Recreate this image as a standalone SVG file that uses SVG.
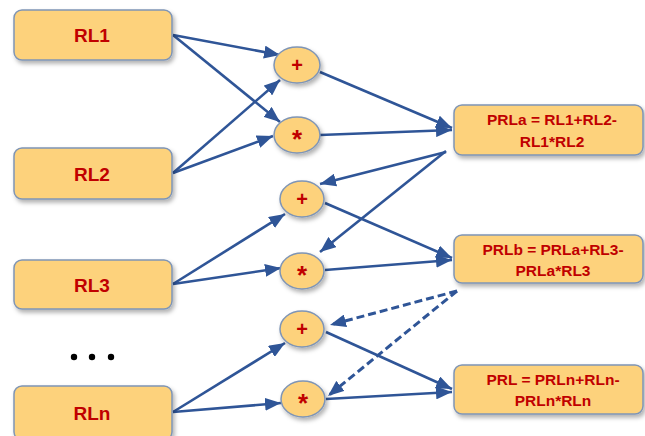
<svg xmlns="http://www.w3.org/2000/svg" width="645" height="436" viewBox="0 0 645 436">
  <defs>
    <filter id="shadow" x="-10%" y="-20%" width="130%" height="150%">
      <feDropShadow dx="2" dy="3" stdDeviation="2" flood-color="#000" flood-opacity="0.3"/>
    </filter>
    <marker id="arrow" viewBox="0 0 16 13" refX="16" refY="6.5" markerWidth="16" markerHeight="13" markerUnits="userSpaceOnUse" orient="auto">
      <path d="M0,0 L16,6.5 L0,13 z" fill="#2F5597"/>
    </marker>
  </defs>
  <style>
    .box { fill: #FDD27C; stroke: #7F95B5; stroke-width: 1.5; filter: url(#shadow); }
    .op { fill: #FDD27C; stroke: #7F95B5; stroke-width: 1.5; filter: url(#shadow); }
    .lbl { font-family: "Liberation Sans", Arial, sans-serif; font-weight: bold; fill: #C00000; text-anchor: middle; }
    .in { font-size: 19px; }
    .res { font-size: 15.5px; }
    .plus { font-size: 20px; }
    .star { font-size: 26px; }
    .wire { stroke: #2F5597; stroke-width: 2.6; fill: none; marker-end: url(#arrow); }
    .dash { stroke-dasharray: 8 4; stroke-width: 3; }
  </style>

  <!-- connectors -->
  <g id="connectors">
    <line class="wire" x1="173" y1="35" x2="280" y2="55"/>
    <line class="wire" x1="173" y1="35" x2="280" y2="122"/>
    <line class="wire" x1="173" y1="173" x2="280" y2="80"/>
    <line class="wire" x1="173" y1="173" x2="273" y2="136"/>
    <line class="wire" x1="320" y1="72" x2="452" y2="128"/>
    <line class="wire" x1="320" y1="135" x2="452" y2="130"/>

    <line class="wire" x1="446" y1="152" x2="320" y2="184"/>
    <line class="wire" x1="446" y1="151" x2="320" y2="252"/>
    <line class="wire" x1="173" y1="284" x2="285" y2="214"/>
    <line class="wire" x1="173" y1="284" x2="281" y2="268"/>
    <line class="wire" x1="325" y1="203" x2="452" y2="258"/>
    <line class="wire" x1="325" y1="270" x2="452" y2="260"/>

    <line class="wire dash" x1="457" y1="291" x2="330" y2="325"/>
    <line class="wire dash" x1="457" y1="291" x2="328" y2="396"/>
    <line class="wire" x1="173" y1="412" x2="285" y2="343"/>
    <line class="wire" x1="173" y1="412" x2="281" y2="403"/>
    <line class="wire" x1="326" y1="332" x2="452" y2="389"/>
    <line class="wire" x1="326" y1="399" x2="452" y2="392"/>
  </g>

  <!-- inputs -->
  <g id="rl1">
    <rect class="box" x="14" y="10" width="158" height="50" rx="8"/>
    <text class="lbl in" x="92" y="42">RL1</text>
  </g>
  <g id="rl2">
    <rect class="box" x="14" y="148" width="158" height="51" rx="8"/>
    <text class="lbl in" x="92" y="181">RL2</text>
  </g>
  <g id="rl3">
    <rect class="box" x="14" y="260" width="158" height="49" rx="8"/>
    <text class="lbl in" x="92" y="292">RL3</text>
  </g>
  <g id="rln">
    <rect class="box" x="14" y="386" width="158" height="54" rx="8"/>
    <text class="lbl in" x="92" y="420">RLn</text>
  </g>
  <g id="ellipsis">
    <circle cx="74" cy="357" r="3.2" fill="#000"/>
    <circle cx="92" cy="357" r="3.2" fill="#000"/>
    <circle cx="111" cy="357" r="3.2" fill="#000"/>
  </g>

  <!-- operators -->
  <g id="add1">
    <ellipse class="op" cx="297" cy="65" rx="23" ry="18"/>
    <text class="lbl plus" x="297" y="72">+</text>
  </g>
  <g id="mul1">
    <ellipse class="op" cx="297" cy="135" rx="23" ry="18"/>
    <text class="lbl star" x="297" y="148">*</text>
  </g>
  <g id="add2">
    <ellipse class="op" cx="302" cy="199" rx="22" ry="18"/>
    <text class="lbl plus" x="302" y="206">+</text>
  </g>
  <g id="mul2">
    <ellipse class="op" cx="302" cy="271" rx="22" ry="18"/>
    <text class="lbl star" x="302" y="284">*</text>
  </g>
  <g id="add3">
    <ellipse class="op" cx="302" cy="329" rx="22" ry="18"/>
    <text class="lbl plus" x="302" y="336">+</text>
  </g>
  <g id="mul3">
    <ellipse class="op" cx="303" cy="399" rx="22" ry="18"/>
    <text class="lbl star" x="303" y="412">*</text>
  </g>

  <!-- results -->
  <g id="prla">
    <rect class="box" x="454" y="105" width="189" height="50" rx="8"/>
    <text class="lbl res" x="552" y="125">PRLa = RL1+RL2-</text>
    <text class="lbl res" x="552" y="147">RL1*RL2</text>
  </g>
  <g id="prlb">
    <rect class="box" x="454" y="235" width="189" height="48" rx="8"/>
    <text class="lbl res" x="553" y="255">PRLb = PRLa+RL3-</text>
    <text class="lbl res" x="553" y="276">PRLa*RL3</text>
  </g>
  <g id="prl">
    <rect class="box" x="454" y="365" width="189" height="49" rx="8"/>
    <text class="lbl res" x="553" y="385">PRL = PRLn+RLn-</text>
    <text class="lbl res" x="553" y="406">PRLn*RLn</text>
  </g>
</svg>
